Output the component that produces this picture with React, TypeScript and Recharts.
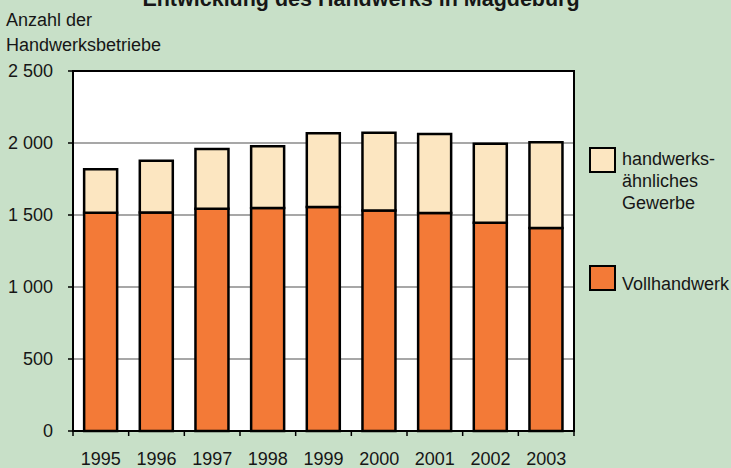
import React from 'react';
import { BarChart, Bar, XAxis, YAxis, CartesianGrid, ReferenceArea } from 'recharts';

const YEARS = ['1995', '1996', '1997', '1998', '1999', '2000', '2001', '2002', '2003'];
const VOLLHANDWERK = [1515, 1517, 1544, 1549, 1556, 1532, 1514, 1447, 1410];
const HANDWERKSAEHNLICH = [302, 360, 414, 428, 511, 540, 548, 548, 595];
const Y_TICKS = [0, 500, 1000, 1500, 2000, 2500];

const FONT = '"Liberation Sans", Arial, sans-serif';
const TEXT = '#161616';
const BG = '#c8e0c8';
const ORANGE = '#f37a37';
const LIGHT = '#fce6c1';

const data = YEARS.map((year, i) => ({
  year,
  voll: VOLLHANDWERK[i],
  aehnlich: HANDWERKSAEHNLICH[i],
}));

const fmt = (v: number) => (v >= 1000 ? `${Math.floor(v / 1000)} ${String(v % 1000).padStart(3, '0')}` : String(v));

// year labels in the middle, tick marks on the category borders
const YearTick = (props: any) => {
  const { x, y, payload, index } = props;
  const half = payload?.offset ?? 0;
  return (
    <g>
      <line x1={x - half} x2={x - half} y1={y} y2={y + 5} stroke="#000" strokeWidth={1.5} />
      {index === YEARS.length - 1 && (
        <line x1={x + half} x2={x + half} y1={y} y2={y + 5} stroke="#000" strokeWidth={1.5} />
      )}
      <text x={x} y={y + 34} textAnchor="middle" fill={TEXT} fontSize={18} fontFamily={FONT}>
        {payload.value}
      </text>
    </g>
  );
};

const LegendBox = () => (
  <div style={{ position: 'absolute', left: 589, top: 147, fontFamily: FONT, fontSize: 18, color: TEXT, lineHeight: '22px' }}>
    <div style={{ position: 'absolute', left: 0, top: 0, width: 23, height: 22, background: LIGHT, border: '2px solid #000' }} />
    <div style={{ position: 'absolute', left: 33, top: 1, whiteSpace: 'nowrap' }}>
      handwerks-
      <br />
      ähnliches
      <br />
      Gewerbe
    </div>
    <div style={{ position: 'absolute', left: 0, top: 118, width: 23, height: 22, background: ORANGE, border: '2px solid #000' }} />
    <div style={{ position: 'absolute', left: 33, top: 126, whiteSpace: 'nowrap' }}>Vollhandwerk</div>
  </div>
);

export default function App() {
  return (
    <div style={{ position: 'fixed', left: 0, top: 0, width: 731, height: 468, background: BG, overflow: 'hidden' }}>
      <div
        style={{
          position: 'absolute', left: 361, top: -13, transform: 'translateX(-50%)', whiteSpace: 'nowrap',
          fontFamily: FONT, fontWeight: 'bold', fontSize: 21.5, color: TEXT,
        }}
      >
        Entwicklung des Handwerks in Magdeburg
      </div>
      <div style={{ position: 'absolute', left: 6, top: 8, fontFamily: FONT, fontSize: 18, color: TEXT, lineHeight: '25px' }}>
        Anzahl der
        <br />
        Handwerksbetriebe
      </div>
      <BarChart
        width={731}
        height={468}
        data={data}
        margin={{ top: 71, right: 157, bottom: 0, left: 0 }}
        barCategoryGap="20%"
      >
        <CartesianGrid vertical={false} stroke="#8a8a8a" strokeWidth={1.5} fill="#ffffff" fillOpacity={1} />
        <XAxis
          dataKey="year"
          interval={0}
          tickSize={0}
          tickMargin={0}
          height={37}
          axisLine={{ stroke: '#000', strokeWidth: 2 }}
          tick={<YearTick />}
        />
        <YAxis
          width={73}
          domain={[0, 2500]}
          ticks={Y_TICKS}
          interval={0}
          tickSize={5}
          tickMargin={15}
          tickFormatter={fmt}
          axisLine={{ stroke: '#000', strokeWidth: 2 }}
          tickLine={{ stroke: '#000', strokeWidth: 1.5 }}
          tick={{ fill: TEXT, fontSize: 18, fontFamily: FONT }}
        />
        <Bar dataKey="voll" stackId="a" fill={ORANGE} stroke="#000" strokeWidth={2.5} isAnimationActive={false} />
        <Bar dataKey="aehnlich" stackId="a" fill={LIGHT} stroke="#000" strokeWidth={2.5} isAnimationActive={false} />
        <ReferenceArea y1={0} y2={2500} fill="none" fillOpacity={0} stroke="#000" strokeWidth={2} />
      </BarChart>
      <LegendBox />
    </div>
  );
}
